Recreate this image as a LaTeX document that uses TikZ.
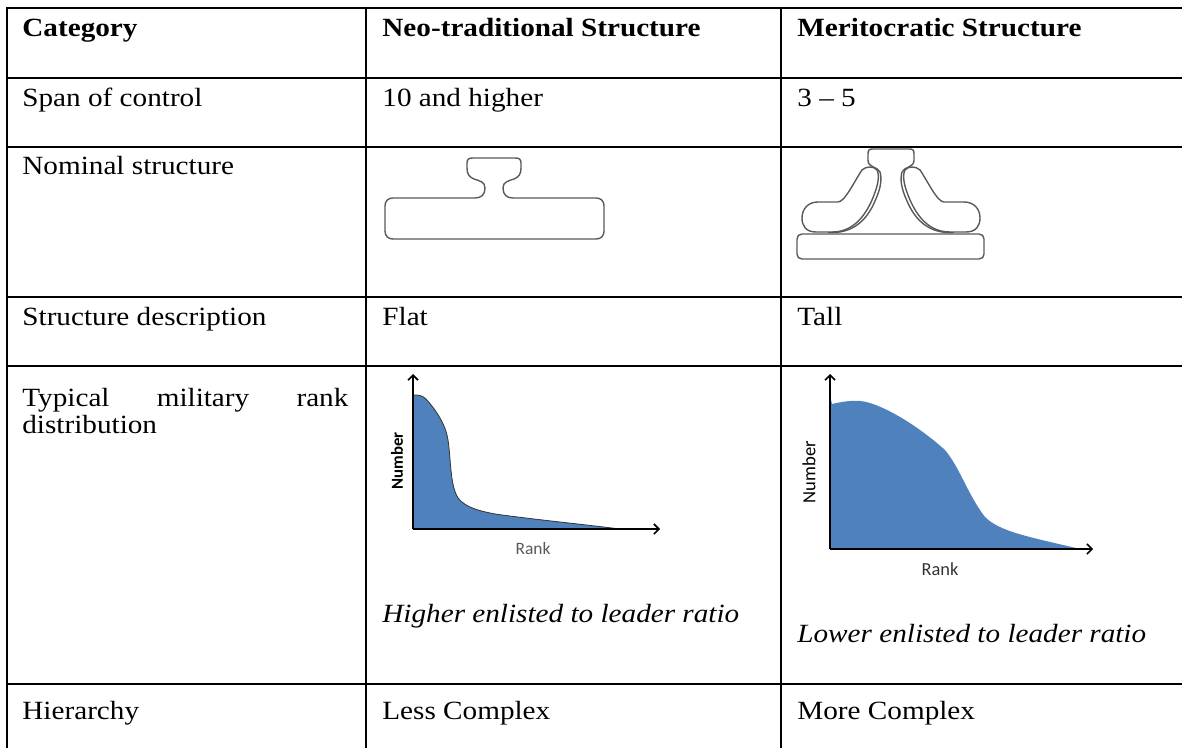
\documentclass[tikz,border=0pt]{standalone}
\usepackage{graphicx}
\usepackage{fontspec}
\setmainfont{Liberation Serif}
\newfontfamily\calibri{Carlito}
\usetikzlibrary{arrows.meta}
\definecolor{chartblue}{RGB}{79,129,189}
\newcommand{\sqz}[1]{\scalebox{1}[0.9]{#1}}
\begin{document}
\begin{tikzpicture}[x=0.5pt,y=-0.5pt,
  grid/.style={line width=1.3pt, line cap=rect},
  cell/.style={anchor=base west, inner sep=0pt, font=\fontsize{14.6}{17}\selectfont},
  cellb/.style={cell, font=\fontsize{14.6}{17}\selectfont\bfseries},
  celli/.style={cell, font=\fontsize{14.6}{17}\selectfont\itshape},
  shapeline/.style={draw=black!65, line width=0.7pt},
  axis/.style={line width=0.8pt, -{Straight Barb[length=2.5pt,width=5pt]}},
  chartfill/.style={fill=chartblue},
]
\useasboundingbox (0,0) rectangle (1182,748);

% table grid
\foreach \y in {8,78,147,297,366,684} \draw[grid] (7,\y) -- (1182,\y);
\foreach \x in {7,366,781} \draw[grid] (\x,8) -- (\x,748);

% header
\node[cellb] (hcat) at (22,37) {\sqz{Category}};
\node[cellb] (hneo) at (382,37) {\sqz{Neo-traditional Structure}};
\node[cellb] (hmer) at (797,37) {\sqz{Meritocratic Structure}};

% rows
\node[cell] (span) at (22,107) {\sqz{Span of control}};
\node[cell] (spanneo) at (382,107) {\sqz{10 and higher}};
\node[cell] (spanmer) at (797,107) {\sqz{3 -- 5}};

\node[cell] (nom) at (22,175) {\sqz{Nominal structure}};

\node[cell] (desc) at (22,326) {\sqz{Structure description}};
\node[cell] (descneo) at (382,326) {\sqz{Flat}};
\node[cell] (descmer) at (797,326) {\sqz{Tall}};

\node[cell] (typ1) at (22,406) {\sqz{\makebox[163pt][s]{Typical military rank}}};
\node[cell] (typ2) at (22,433) {\sqz{distribution}};
\node[celli] (rationeo) at (382,622) {\sqz{Higher enlisted to leader ratio}};
\node[celli] (ratiomer) at (797,642) {\sqz{Lower enlisted to leader ratio}};

\node[cell] (hier) at (22,719) {\sqz{Hierarchy}};
\node[cell] (hierneo) at (382,719) {\sqz{Less Complex}};
\node[cell] (hiermer) at (797,719) {\sqz{More Complex}};

% neo-traditional nominal structure (T shape)
\draw[shapeline] (485,188) .. controls (485,182) and (480,181) .. (474,179)
  .. controls (469,177) and (467,174) .. (467,168) -- (467,163)
  .. controls (467,159) and (469,158) .. (473,158) -- (515,158)
  .. controls (519,158) and (521,159) .. (521,163) -- (521,168)
  .. controls (521,174) and (519,177) .. (514,179)
  .. controls (508,181) and (503,182) .. (503,188)
  .. controls (503,195) and (507,198) .. (513,198) -- (596,198)
  .. controls (601,198) and (604,201) .. (604,206) -- (604,231)
  .. controls (604,236) and (601,239) .. (596,239) -- (393,239)
  .. controls (388,239) and (385,236) .. (385,231) -- (385,206)
  .. controls (385,201) and (388,198) .. (393,198) -- (475,198)
  .. controls (481,198) and (485,195) .. (485,188) -- cycle;

% meritocratic nominal structure
\draw[shapeline] (797,239) .. controls (797,236) and (799,234) .. (802,234) -- (979,234)
  .. controls (982,234) and (984,236) .. (984,239) -- (984,254)
  .. controls (984,257) and (982,259) .. (979,259) -- (802,259)
  .. controls (799,259) and (797,257) .. (797,254) -- cycle;
\draw[shapeline] (880,172) .. controls (877,166) and (868,168) .. (868,160) -- (868,154)
  .. controls (868,150) and (869,149) .. (873,149) -- (909,149)
  .. controls (913,149) and (914,150) .. (914,154) -- (914,160)
  .. controls (914,168) and (905,166) .. (902,172);
\foreach \s in {1,-1}{
\begin{scope}[shift={(891,0)}, xscale=\s, shift={(-891,0)}]
\draw[shapeline] (862,170) .. controls (866,166) and (874,166) .. (877,170)
  .. controls (880,176) and (878,186) .. (872,200)
  .. controls (864,218) and (852,232) .. (832,232) -- (816,232)
  .. controls (806,232) and (802,226) .. (802,218)
  .. controls (802,209) and (808,202) .. (818,202) -- (838,202)
  .. controls (845,202) and (855,180) .. (862,170) -- cycle;
\draw[shapeline] (880,172) .. controls (882,179) and (881,188) .. (875,201)
  .. controls (867,220) and (853,234) .. (828,232.5);
\end{scope}
}

% neo-traditional rank chart
\coordinate (o1) at (413,529);
\coordinate (ytop1) at (413,374);
\coordinate (xend1) at (660,529);
\filldraw[chartfill, draw=black!80, line width=0.4pt] (o1) -- (413,395)
  .. controls (418,395) and (422,395) .. (426,399)
  .. controls (436,410) and (446,425) .. (448,440)
  .. controls (451,460) and (450,485) .. (458,498)
  .. controls (466,508) and (480,511) .. (495,514)
  .. controls (530,519) and (580,524) .. (620,529) -- cycle;
\draw[axis] (o1) -- (ytop1);
\draw[axis] (o1) -- (xend1);
\node[rotate=90, inner sep=0pt, font=\calibri\fontsize{8.4}{10}\selectfont\bfseries] (num1) at (397,461) {Number};
\node[inner sep=0pt, text=black!65, font=\calibri\fontsize{8.7}{10}\selectfont] (rank1) at (533,549) {Rank};

% meritocratic rank chart
\coordinate (o2) at (830,549);
\coordinate (ytop2) at (830,374);
\coordinate (xend2) at (1093,549);
\fill[chartfill] (o2) -- (830,396) -- (832,404)
  .. controls (845,401) and (858,399) .. (870,403)
  .. controls (895,411) and (925,432) .. (945,450)
  .. controls (960,468) and (968,495) .. (985,517)
  .. controls (1000,532) and (1030,537) .. (1080,549) -- cycle;
\draw[axis] (o2) -- (ytop2);
\draw[axis] (o2) -- (xend2);
\node[rotate=90, inner sep=0pt, font=\calibri\fontsize{9.3}{11}\selectfont] (num2) at (809,472) {Number};
\node[inner sep=0pt, text=black!80, font=\calibri\fontsize{9.2}{11}\selectfont] (rank2) at (940,569) {Rank};
\end{tikzpicture}
\end{document}
